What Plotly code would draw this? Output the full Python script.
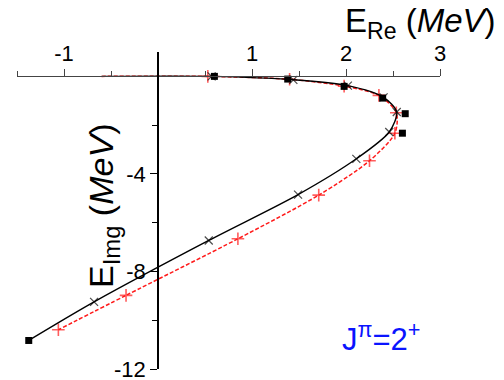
import plotly.graph_objects as go

# Complex energy trajectories (E_Re, E_Img) in MeV
calc_a_re = [-0.6, 0.57, 1.44, 2.02, 2.40, 2.54, 2.46, 2.11, 1.49, 0.54, -0.68, -1.375]
calc_a_im = [0.0, 0.0, -0.14, -0.38, -0.86, -1.46, -2.28, -3.38, -4.85, -6.73, -9.25, -10.83]

calc_b_re = [-0.6, 0.53, 1.40, 1.98, 2.35, 2.535, 2.52, 2.25, 1.71, 0.85, -0.34, -1.06]
calc_b_im = [0.0, 0.0, -0.12, -0.40, -0.78, -1.49, -2.33, -3.46, -4.87, -6.66, -8.98, -10.39]

exact_re = [0.6, 1.38, 1.98, 2.39, 2.63, 2.60, -1.375]
exact_im = [0.0, -0.11, -0.41, -0.89, -1.53, -2.33, -10.83]

x_ticks = [-1, 1, 2, 3]
x_minor = [-1.5, -0.5, 0.5, 1.5, 2.5]
y_ticks = [-4, -8, -12]
y_minor = [-2, -6, -10]

FONT = "Arial, Liberation Sans, sans-serif"

fig = go.Figure()

# dashed red curve with "+" markers (no marker at the starting point)
fig.add_trace(go.Scatter(
    x=calc_b_re, y=calc_b_im, mode="lines+markers",
    line=dict(color="#ff1a1a", width=1.5, dash="4px,2px", shape="spline", smoothing=0.8),
    marker=dict(symbol="cross-thin", size=[0] + [9] * (len(calc_b_re) - 1),
                line=dict(color="#ff1a1a", width=1.6)),
    showlegend=False, cliponaxis=False,
))

# solid black curve with "x" markers (ends on the last square)
sizes_a = [0] + [8] * (len(calc_a_re) - 2) + [0]
fig.add_trace(go.Scatter(
    x=calc_a_re, y=calc_a_im, mode="lines+markers",
    line=dict(color="black", width=1.4, shape="spline", smoothing=0.8),
    marker=dict(symbol="x-thin", size=sizes_a, line=dict(color="black", width=1.2)),
    showlegend=False, cliponaxis=False,
))

# black squares
fig.add_trace(go.Scatter(
    x=exact_re, y=exact_im, mode="markers",
    marker=dict(symbol="square", size=7, color="black"),
    showlegend=False, cliponaxis=False,
))

fig.update_layout(
    width=504, height=380,
    margin=dict(l=17, r=64, t=52, b=11, autoexpand=False),
    paper_bgcolor="white", plot_bgcolor="white",
    font=dict(family=FONT, color="black"),
    xaxis=dict(
        range=[-1.5, 3], side="top", anchor="free", position=12 / 13,
        showgrid=False, zeroline=False,
        showline=True, linecolor="#444", linewidth=1,
        tickmode="array", tickvals=x_ticks, ticktext=[str(v) for v in x_ticks],
        ticks="outside", ticklen=7, tickwidth=1, tickcolor="#444",
        tickfont=dict(size=22, family=FONT),
        ticklabeloverflow="allow",
        minor=dict(tickmode="array", tickvals=x_minor, ticks="outside",
                   ticklen=5, tickwidth=1, tickcolor="#444"),
    ),
    yaxis=dict(
        range=[-12, 1], side="left", anchor="free", position=1.5 / 4.5,
        showgrid=False, zeroline=False,
        showline=True, linecolor="black", linewidth=1.5,
        tickmode="array", tickvals=y_ticks, ticktext=[str(v) for v in y_ticks],
        ticks="outside", ticklen=7, tickwidth=1, tickcolor="black",
        tickfont=dict(size=22, family=FONT),
        ticklabeloverflow="allow",
        minor=dict(tickmode="array", tickvals=y_minor, ticks="outside",
                   ticklen=5, tickwidth=1, tickcolor="black"),
    ),
    annotations=[
        dict(text="E<sub>Re</sub> (<i>MeV</i>)", x=0.953, y=1.09, xref="paper", yref="paper",
             showarrow=False, xanchor="center", yanchor="middle",
             font=dict(size=33, family=FONT, color="black")),
        dict(text="E<sub>Img</sub> (<i>MeV</i>)", x=0.203, y=0.514, xref="paper", yref="paper",
             showarrow=False, xanchor="center", yanchor="middle", textangle=-90,
             font=dict(size=34, family=FONT, color="black")),
        dict(text="J<sup>π</sup>=2<sup>+</sup>", x=0.861, y=0.101, xref="paper", yref="paper",
             showarrow=False, xanchor="center", yanchor="middle",
             font=dict(size=31, family=FONT, color="#0a14ff")),
    ],
)

fig.write_html("out.html")
